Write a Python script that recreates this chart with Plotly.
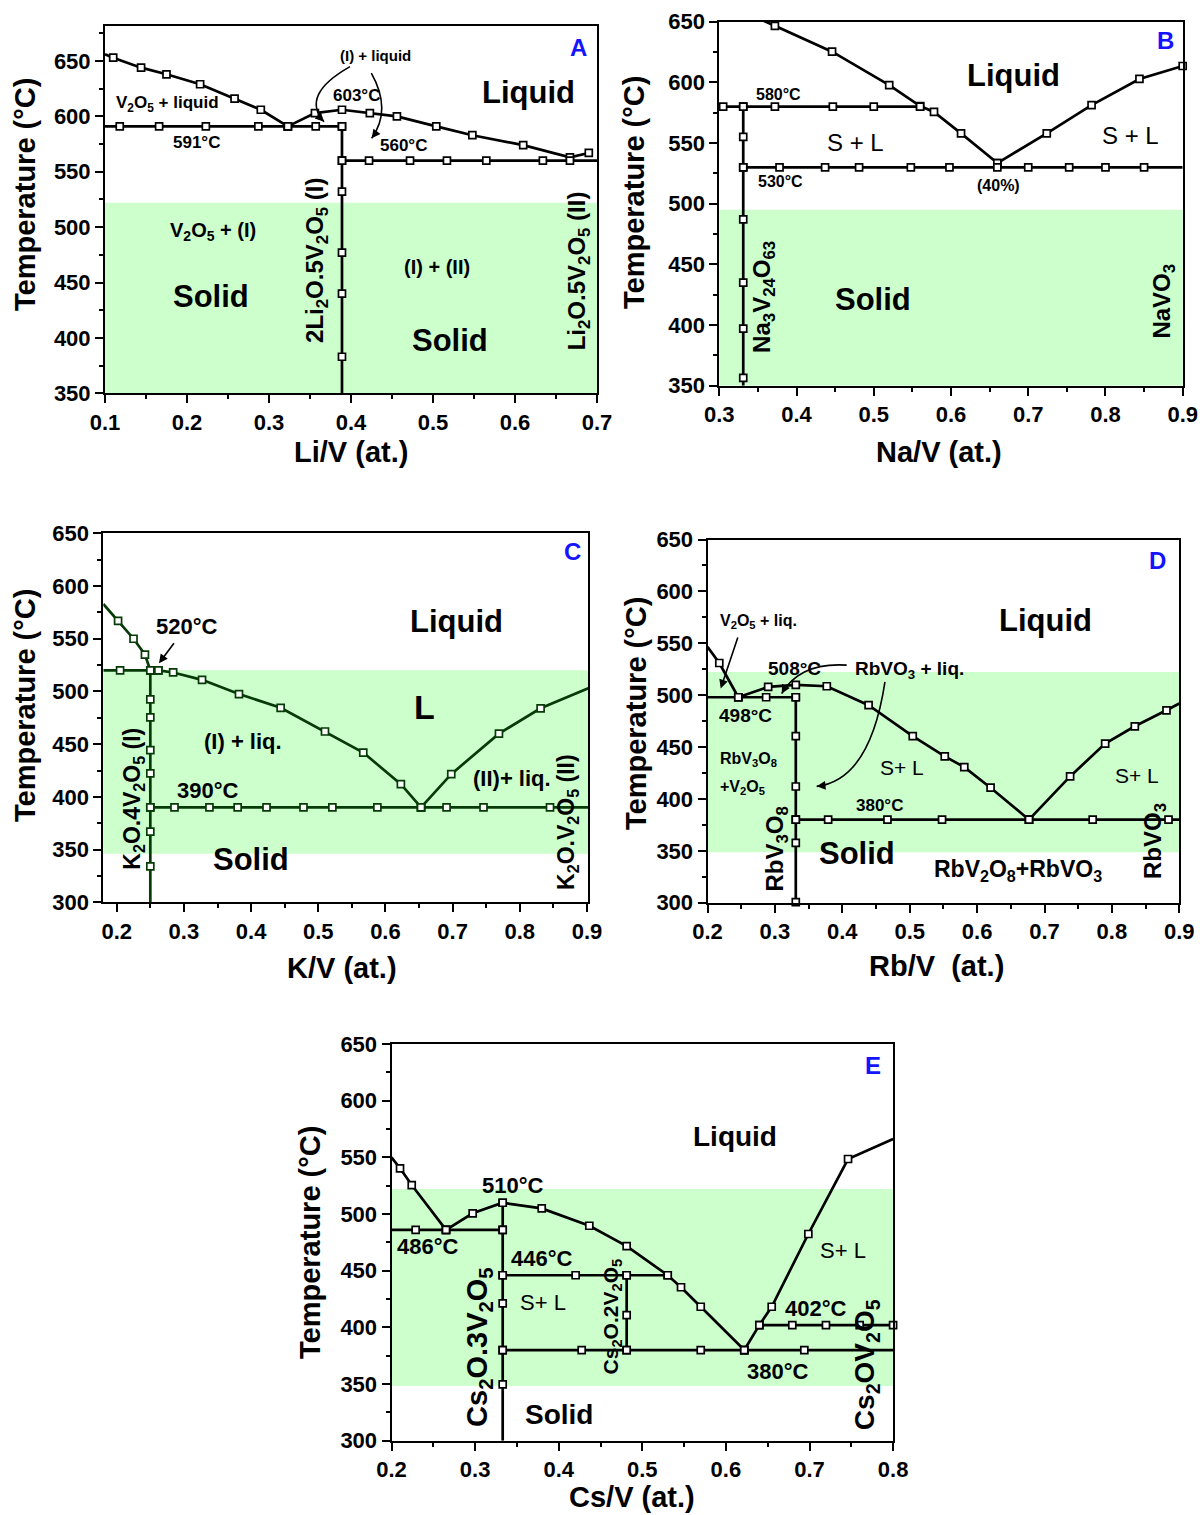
import plotly.graph_objects as go

FONT = "Arial, Liberation Sans, sans-serif"
INK = "black"
C_INK = "#063a06"      # panel C is drawn in dark green
GREEN = "#ccffcc"
BLUE = "#1414ff"

# ---------------- Panel A : Li/V ----------------
A_liq_left_x = [0.100, 0.110, 0.144, 0.175, 0.216, 0.258, 0.290, 0.323]
A_liq_left_t = [656, 653, 644, 638, 629, 616, 606, 591]
A_liq_right_x = [0.323, 0.356, 0.389, 0.423, 0.456, 0.504, 0.548, 0.610, 0.667, 0.690]
A_liq_right_t = [591, 603, 606, 603, 600, 591, 583, 574, 563, 567]
A_591_x = [0.100, 0.118, 0.166, 0.223, 0.287, 0.323, 0.357, 0.389]
A_591_t = [591] * len(A_591_x)
A_560_x = [0.389, 0.422, 0.472, 0.517, 0.565, 0.634, 0.667, 0.700]
A_560_t = [560] * len(A_560_x)
A_comp_x = 0.389
A_comp_t = [591, 560, 532, 477, 440, 383, 350]
A_band = [350, 522]

# ---------------- Panel B : Na/V ----------------
B_liq_left_x = [0.350, 0.372, 0.446, 0.520, 0.560, 0.578, 0.613, 0.660]
B_liq_left_t = [653, 646.5, 625.3, 597.8, 580.5, 575.6, 558, 533.5]
B_liq_right_x = [0.660, 0.724, 0.782, 0.844, 0.900]
B_liq_right_t = [533.5, 558, 581.3, 602.8, 613.5]
B_580_x = [0.300, 0.305, 0.331, 0.372, 0.447, 0.500, 0.560]
B_580_t = [580] * len(B_580_x)
B_530_x = [0.331, 0.378, 0.437, 0.481, 0.548, 0.598, 0.660, 0.700, 0.753, 0.800, 0.850, 0.900]
B_530_t = [530] * len(B_530_x)
B_comp_x = 0.331
B_comp_t = [580, 555, 530, 487, 435, 397, 356.5, 350]
B_band = [350, 495]

# ---------------- Panel C : K/V ----------------
C_liq_left_x = [0.180, 0.202, 0.225, 0.242, 0.250]
C_liq_left_t = [583, 567, 550, 535, 520]
C_liq_mid_x = [0.262, 0.284, 0.327, 0.382, 0.444, 0.510, 0.567, 0.623, 0.653]
C_liq_mid_t = [520, 518, 511, 497.5, 484.5, 462, 442, 412, 390]
C_liq_right_x = [0.653, 0.698, 0.769, 0.831, 0.902]
C_liq_right_t = [390, 421.6, 460, 484, 503]
C_520_x = [0.180, 0.205, 0.250, 0.262]
C_520_t = [520] * len(C_520_x)
C_390_x = [0.250, 0.286, 0.338, 0.380, 0.423, 0.478, 0.521, 0.588, 0.653, 0.691, 0.746, 0.845, 0.902]
C_390_t = [390] * len(C_390_x)
C_comp_x = 0.250
C_comp_t = [520, 492.5, 475.4, 444.4, 422.3, 390, 367, 334, 300]
C_band = [346, 520]

# ---------------- Panel D : Rb/V ----------------
D_liq_left_x = [0.200, 0.2175, 0.2457]
D_liq_left_t = [546.5, 531, 498]
D_liq_mid_x = [0.2457, 0.290, 0.331, 0.377, 0.439, 0.5045, 0.552, 0.581, 0.620, 0.677]
D_liq_mid_t = [498, 508, 510, 508.6, 490.3, 460.6, 441, 430.7, 410.8, 380]
D_liq_right_x = [0.677, 0.738, 0.790, 0.834, 0.881, 0.900]
D_liq_right_t = [380, 421.7, 453.3, 470, 485.4, 492]
D_498_x = [0.200, 0.2457, 0.287, 0.331]
D_498_t = [498] * len(D_498_x)
D_380_x = [0.331, 0.379, 0.467, 0.548, 0.677, 0.7715, 0.884, 0.900]
D_380_t = [380] * len(D_380_x)
D_comp_x = 0.331
D_comp_t = [498, 460.6, 412, 380, 357.7, 300.5]
D_band = [348.6, 522.4]

# ---------------- Panel E : Cs/V ----------------
E_liq_left_x = [0.200, 0.2102, 0.2242, 0.2652]
E_liq_left_t = [550, 540.4, 525.6, 486]
E_liq_mid_x = [0.2652, 0.2971, 0.333, 0.3797, 0.4366, 0.4813, 0.5304, 0.5463, 0.5699, 0.622]
E_liq_mid_t = [486, 500.7, 510, 505, 489.7, 471.8, 446, 435.4, 418.2, 380]
E_liq_right_x = [0.622, 0.640, 0.6548, 0.6986, 0.7461, 0.800]
E_liq_right_t = [380, 402, 418.2, 482.4, 548.6, 566.2]
E_486_x = [0.200, 0.2289, 0.2652, 0.333]
E_486_t = [486] * len(E_486_x)
E_446_x = [0.333, 0.4203, 0.4813, 0.5304]
E_446_t = [446] * len(E_446_x)
E_380_x = [0.333, 0.4275, 0.4813, 0.5699, 0.622, 0.6938, 0.800]
E_380_t = [380] * len(E_380_x)
E_402_x = [0.640, 0.6794, 0.7197, 0.760, 0.800]
E_402_t = [402] * len(E_402_x)
E_comp1_x = 0.333
E_comp1_t = [510, 486, 446, 421.2, 380, 349.7, 300]
E_comp2_x = 0.4813
E_comp2_t = [446, 410.9, 380]
E_band = [348.2, 522.1]

# axis ids per panel
AX = {"A": ("x", "y"), "B": ("x2", "y2"), "C": ("x3", "y3"), "D": ("x4", "y4"), "E": ("x5", "y5")}

fig = go.Figure()


def curve(p, xs, ts, color=INK, bare_first=False, bare_last=False):
    """Phase boundary: a solid line with open square markers on the measured points."""
    xa, ya = AX[p]
    fig.add_trace(go.Scatter(x=xs, y=ts, mode="lines", xaxis=xa, yaxis=ya,
                             line=dict(color=color, width=2.7),
                             hoverinfo="skip", showlegend=False))
    i0 = 1 if bare_first else 0
    i1 = len(xs) - 1 if bare_last else len(xs)
    fig.add_trace(go.Scatter(x=xs[i0:i1], y=ts[i0:i1], mode="markers", xaxis=xa, yaxis=ya,
                             marker=dict(symbol="square", size=7, color="white",
                                         line=dict(color=color, width=1.7)),
                             cliponaxis=False, hoverinfo="skip", showlegend=False))


def vline(p, x, ts, color=INK, bare_last=True):
    curve(p, [x] * len(ts), ts, color=color, bare_last=bare_last)


# Panel A
curve("A", A_liq_left_x, A_liq_left_t, bare_first=True)
curve("A", A_liq_right_x, A_liq_right_t)
curve("A", A_591_x, A_591_t, bare_first=True)
curve("A", A_560_x, A_560_t, bare_last=True)
vline("A", A_comp_x, A_comp_t)

# Panel B
curve("B", B_liq_left_x, B_liq_left_t, bare_first=True)
curve("B", B_liq_right_x, B_liq_right_t)
curve("B", B_580_x, B_580_t, bare_first=True)
curve("B", B_530_x, B_530_t, bare_last=True)
vline("B", B_comp_x, B_comp_t)

# Panel C
curve("C", C_liq_left_x, C_liq_left_t, color=C_INK, bare_first=True)
curve("C", C_liq_mid_x, C_liq_mid_t, color=C_INK)
curve("C", C_liq_right_x, C_liq_right_t, color=C_INK, bare_last=True)
curve("C", C_520_x, C_520_t, color=C_INK, bare_first=True)
curve("C", C_390_x, C_390_t, color=C_INK, bare_last=True)
vline("C", C_comp_x, C_comp_t, color=C_INK)

# Panel D
curve("D", D_liq_left_x, D_liq_left_t, bare_first=True)
curve("D", D_liq_mid_x, D_liq_mid_t)
curve("D", D_liq_right_x, D_liq_right_t, bare_last=True)
curve("D", D_498_x, D_498_t, bare_first=True)
curve("D", D_380_x, D_380_t, bare_last=True)
vline("D", D_comp_x, D_comp_t, bare_last=False)

# Panel E
curve("E", E_liq_left_x, E_liq_left_t, bare_first=True)
curve("E", E_liq_mid_x, E_liq_mid_t)
curve("E", E_liq_right_x, E_liq_right_t, bare_last=True)
curve("E", E_486_x, E_486_t, bare_first=True)
curve("E", E_446_x, E_446_t)
curve("E", E_380_x, E_380_t, bare_last=True)
curve("E", E_402_x, E_402_t)
vline("E", E_comp1_x, E_comp1_t)
vline("E", E_comp2_x, E_comp2_t, bare_last=False)

# shaded solid-state bands
shapes = []
for p, band in [("A", A_band), ("B", B_band), ("C", C_band), ("D", D_band), ("E", E_band)]:
    xa, ya = AX[p]
    shapes.append(dict(type="rect", xref=f"{xa} domain", yref=ya, x0=0, x1=1,
                       y0=band[0], y1=band[1], fillcolor=GREEN, line=dict(width=0),
                       layer="below"))

# curved pointer arrows (body as a Bezier path, head added as annotation)
arrow_paths = [
    ("A", "M 0.3988,644.9 Q 0.3378,619.3 0.3671,595.2"),
    ("A", "M 0.4248,639.0 Q 0.4500,605.8 0.4252,580.2"),
    ("D", "M 0.4065,528.9 Q 0.3372,531.8 0.3101,501.5"),
    ("D", "M 0.4633,512.7 Q 0.4411,417.9 0.3620,412.1"),
]
for p, path in arrow_paths:
    xa, ya = AX[p]
    shapes.append(dict(type="path", xref=xa, yref=ya, path=path,
                       line=dict(color=INK, width=1.6)))

annotations = []


def label(p, x, y, text, size, bold=True, color=INK, angle=0, xanchor="center"):
    xa, ya = AX[p]
    annotations.append(dict(xref=xa, yref=ya, x=x, y=y, text=text, showarrow=False,
                            textangle=angle, xanchor=xanchor, yanchor="middle",
                            font=dict(family=FONT, size=size, color=color,
                                      weight="bold" if bold else "normal")))


def head(p, x, y, ax, ay):
    xa, ya = AX[p]
    annotations.append(dict(xref=xa, yref=ya, x=x, y=y, ax=ax, ay=ay, text="",
                            showarrow=True, arrowhead=2, arrowsize=1.1, arrowwidth=1.6,
                            arrowcolor=INK, standoff=0))


def pointer(p, x, y, tx, ty):
    xa, ya = AX[p]
    annotations.append(dict(xref=xa, yref=ya, x=x, y=y, axref=xa, ayref=ya, ax=tx, ay=ty,
                            text="", showarrow=True, arrowhead=2, arrowsize=1.1,
                            arrowwidth=1.6, arrowcolor=INK, standoff=0))


sub = lambda s: f"<sub>{s}</sub>"
V2O5 = f"V{sub(2)}O{sub(5)}"

# Panel A labels
label("A", 0.678, 662.6, "A", 24, color=BLUE)
label("A", 0.4293, 655.4, "(I) + liquid", 15)
label("A", 0.4073, 619.3, "603°C", 17)
label("A", 0.1768, 611.2, f"{V2O5} + liquid", 17)
label("A", 0.211, 576.0, "591°C", 17)
label("A", 0.4646, 573.3, "560°C", 17)
label("A", 0.6159, 622.0, "Liquid", 31)
label("A", 0.2317, 495.7, f"{V2O5} + (I)", 20)
label("A", 0.2293, 437.0, "Solid", 31)
label("A", 0.5049, 464.0, "(I) + (II)", 20)
label("A", 0.5207, 397.3, "Solid", 31)
label("A", 0.3585, 470.4, f"2Li{sub(2)}O.5{V2O5} (I)", 24, angle=-90)
label("A", 0.6768, 461.0, f"Li{sub(2)}O.5{V2O5} (II)", 24, angle=-90)
head("A", 0.3671, 595.2, -7, -7)
head("A", 0.4252, 580.2, 6, -8)

# Panel B labels
label("B", 0.8773, 634.9, "B", 24, color=BLUE)
label("B", 0.6808, 606.0, "Liquid", 31)
label("B", 0.376, 589.6, "580°C", 16)
label("B", 0.4758, 550.8, "S + L", 24, bold=False)
label("B", 0.8320, 555.8, "S + L", 24, bold=False)
label("B", 0.3786, 518.7, "530°C", 16)
label("B", 0.661, 515.4, "(40%)", 16)
label("B", 0.4991, 421.4, "Solid", 31)
label("B", 0.3579, 423.2, f"Na{sub(3)}V{sub(24)}O{sub(63)}", 24, angle=-90)
label("B", 0.8751, 419.7, f"NaVO{sub(3)}", 24, angle=-90)

# Panel C labels
label("C", 0.879, 633.2, "C", 24, color=BLUE)
label("C", 0.706, 566.1, "Liquid", 31)
label("C", 0.305, 561.4, "520°C", 22)
pointer("C", 0.2629, 526.7, 0.2868, 547.2)
label("C", 0.6588, 485.5, "L", 34)
label("C", 0.3884, 452.3, "(I) + liq.", 22)
label("C", 0.3354, 406.4, "390°C", 22)
label("C", 0.7878, 417.6, "(II)+ liq.", 22)
label("C", 0.3999, 340.7, "Solid", 31)
label("C", 0.2247, 398.6, f"K{sub(2)}O.4{V2O5} (I)", 23, angle=-90)
label("C", 0.872, 376.4, f"K{sub(2)}O.{V2O5} (II)", 23, angle=-90)

# Panel D labels
label("D", 0.868, 629.5, "D", 24, color=BLUE)
label("D", 0.7018, 572.3, "Liquid", 31)
label("D", 0.2754, 570.7, f"{V2O5} + liq.", 16)
pointer("D", 0.2196, 506.4, 0.2457, 556.9)
label("D", 0.3288, 525.7, "508°C", 19)
label("D", 0.5004, 524.0, f"RbVO{sub(3)} + liq.", 19)
head("D", 0.3101, 501.5, 5, -9)
head("D", 0.3620, 412.1, 10, -1)
label("D", 0.2557, 480.6, "498°C", 19)
label("D", 0.216, 437.8, f"RbV{sub(3)}O{sub(8)}", 16, xanchor="left")
label("D", 0.216, 410.8, f"+{V2O5}", 16, xanchor="left")
label("D", 0.4881, 430.7, "S+ L", 21, bold=False)
label("D", 0.8377, 422.7, "S+ L", 21, bold=False)
label("D", 0.4559, 393.7, "380°C", 17)
label("D", 0.4222, 347.1, "Solid", 31)
label("D", 0.6611, 331.0, f"RbV{sub(2)}O{sub(8)}+RbVO{sub(3)}", 23)
label("D", 0.3027, 351.9, f"RbV{sub(3)}O{sub(8)}", 24, angle=-90)
label("D", 0.864, 359.5, f"RbVO{sub(3)}", 24, angle=-90)

# Panel E labels
label("E", 0.776, 630.7, "E", 24, color=BLUE)
label("E", 0.6109, 568.3, "Liquid", 28)
label("E", 0.345, 525.0, "510°C", 22)
label("E", 0.244, 471.2, "486°C", 22)
label("E", 0.3797, 461.0, "446°C", 22)
label("E", 0.3816, 421.8, "S+ L", 22, bold=False)
label("E", 0.740, 468.2, "S+ L", 22, bold=False)
label("E", 0.7078, 417.0, "402°C", 22)
label("E", 0.6622, 361.5, "380°C", 22)
label("E", 0.4004, 322.7, "Solid", 28)
label("E", 0.3038, 383.0, f"Cs{sub(2)}O.3{V2O5}", 29, angle=-90)
label("E", 0.4634, 409.4, f"Cs{sub(2)}O.2{V2O5}", 21, angle=-90)
label("E", 0.7676, 366.7, f"Cs{sub(2)}O{V2O5}", 28, angle=-90)

# axis titles
AXIS_TITLES = [
    (25, 195, "Temperature (°C)", -90), (351, 452, "Li/V (at.)", 0),
    (634, 193, "Temperature (°C)", -90), (939, 452, "Na/V (at.)", 0),
    (25, 706, "Temperature (°C)", -90), (342, 968, "K/V (at.)", 0),
    (636, 714, "Temperature (°C)", -90), (936, 966, "Rb/V  (at.)", 0),
    (310, 1243, "Temperature (°C)", -90), (632, 1497, "Cs/V (at.)", 0),
]
W, H = 1200, 1515
for px, py, txt, ang in AXIS_TITLES:
    annotations.append(dict(xref="paper", yref="paper", x=px / W, y=1 - py / H, text=txt,
                            showarrow=False, textangle=ang, xanchor="center", yanchor="middle",
                            borderpad=0,
                            font=dict(family=FONT, size=29, color=INK, weight="bold")))

tickfont = dict(family=FONT, size=22, color=INK, weight="bold")


def x_axis(dom, rng, anchor, dtick=0.1):
    return dict(domain=dom, range=rng, anchor=anchor, automargin=False, showline=True,
                linecolor=INK, linewidth=2, mirror=True, ticks="outside", ticklen=8,
                tickwidth=2, tickcolor=INK, tickmode="linear", tick0=0.1, dtick=dtick,
                tickformat=".1f", tickfont=tickfont, showgrid=False, zeroline=False,
                minor=dict(ticks="outside", ticklen=4, tickwidth=2, tickcolor=INK,
                           tick0=0.05, dtick=dtick / 2, showgrid=False))


def y_axis(dom, rng, anchor):
    return dict(domain=dom, range=rng, anchor=anchor, automargin=False, showline=True,
                linecolor=INK, linewidth=2, mirror=True, ticks="outside", ticklen=8,
                tickwidth=2, tickcolor=INK, tickmode="linear", tick0=300, dtick=50,
                tickfont=tickfont, showgrid=False, zeroline=False,
                minor=dict(ticks="outside", ticklen=4, tickwidth=2, tickcolor=INK,
                           tick0=300, dtick=25, showgrid=False))


def dom_x(a, b):
    return [a / W, b / W]


def dom_y(top, bottom):
    return [1 - bottom / H, 1 - top / H]


fig.update_layout(
    width=W, height=H, margin=dict(l=0, r=0, t=0, b=0, autoexpand=False),
    paper_bgcolor="white", plot_bgcolor="white", showlegend=False,
    xaxis=x_axis(dom_x(105, 597), [0.1, 0.7], "y"),
    yaxis=y_axis(dom_y(26, 393.3), [350, 681.6], "x"),
    xaxis2=x_axis(dom_x(719.3, 1182.7), [0.3, 0.9], "y2"),
    yaxis2=y_axis(dom_y(21.7, 385.7), [350, 650], "x2"),
    xaxis3=x_axis(dom_x(103.3, 588.3), [0.18, 0.902], "y3"),
    yaxis3=y_axis(dom_y(533.3, 902.3), [300, 650], "x3"),
    xaxis4=x_axis(dom_x(707.5, 1179.3), [0.2, 0.9], "y4"),
    yaxis4=y_axis(dom_y(539.5, 902.7), [300, 650], "x4"),
    xaxis5=x_axis(dom_x(391.5, 893.1), [0.2, 0.8], "y5"),
    yaxis5=y_axis(dom_y(1044.1, 1440.7), [300, 650], "x5"),
    shapes=shapes, annotations=annotations,
    font=dict(family=FONT, color=INK),
)

fig.write_html("out.html")
